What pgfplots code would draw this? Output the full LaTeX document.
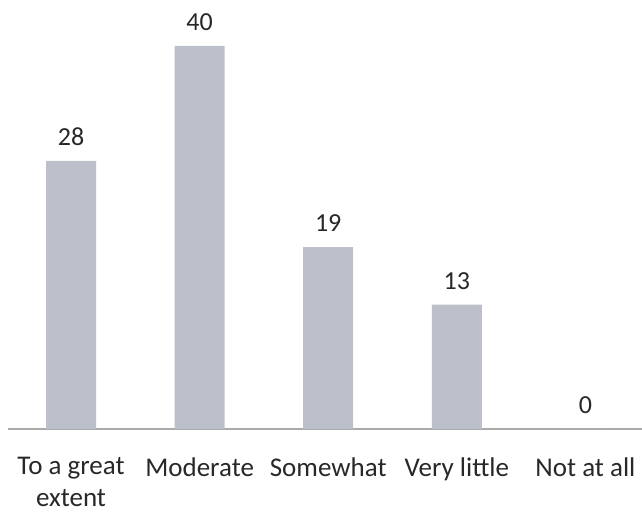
\documentclass[border=0pt]{standalone}
\usepackage{fontspec}
\setmainfont{Carlito}
\usepackage{pgfplots}
\pgfplotsset{compat=1.18}
\definecolor{barfill}{RGB}{188,192,202}
\definecolor{baseline}{RGB}{170,170,170}
\definecolor{txt}{RGB}{40,40,40}

\begin{document}
\begin{tikzpicture}
  \begin{axis}[
      ybar,
      scale only axis,
      width=317pt,
      height=214.5pt,
      bar width=25pt,
      xmin=-0.49, xmax=4.44,
      ymin=0, ymax=44.8,
      xtick=data,
      xticklabels={{To a great\\extent}, Moderate, Somewhat, Very little, Not at all},
      xticklabel style={align=center, anchor=north, yshift=-6.5pt, font=\fontsize{13.5}{16}\selectfont, text=txt},
      xtick style={draw=none},
      axis y line=none,
      axis x line*=bottom,
      axis line style={draw=baseline, line width=0.8pt},
      /pgf/number format/assume math mode=true,
      nodes near coords,
      every node near coord/.append style={font=\fontsize{13}{15}\selectfont, text=txt, yshift=4pt},
      clip=false,
    ]
    \addplot[fill=barfill, draw=none] coordinates {(0,28) (1,40) (2,19) (3,13) (4,0)};
  \end{axis}
  % page frame: a little room left of the axis and below the labels
  \pgfresetboundingbox
  \path[use as bounding box] (current axis.south west) ++(-4pt,-42pt) rectangle (current axis.north east);
\end{tikzpicture}
\end{document}
